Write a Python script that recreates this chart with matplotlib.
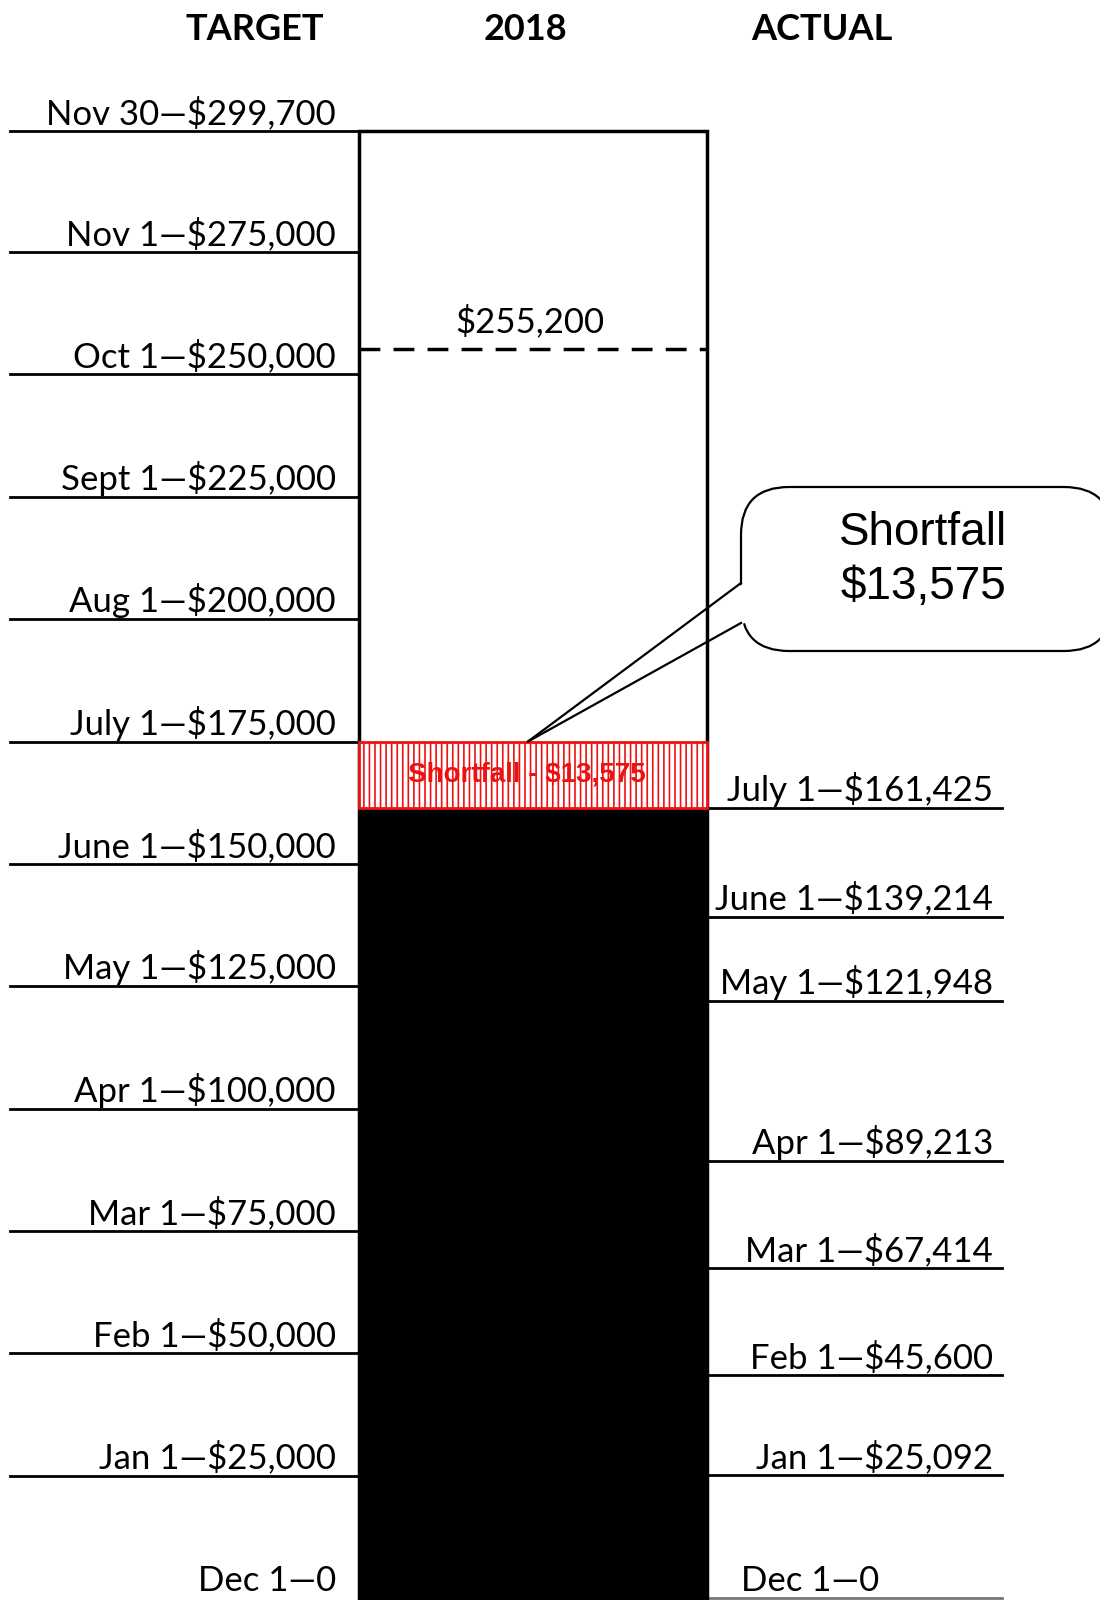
import matplotlib
matplotlib.use("Agg")
import matplotlib.pyplot as plt
from matplotlib.patches import FancyBboxPatch, Polygon

plt.rcParams['font.family'] = ['Lato', 'DejaVu Sans']

# target schedule (left side)
target_months = ["Dec 1", "Jan 1", "Feb 1", "Mar 1", "Apr 1", "May 1", "June 1",
                 "July 1", "Aug 1", "Sept 1", "Oct 1", "Nov 1", "Nov 30"]
target_values = [0, 25000, 50000, 75000, 100000, 125000, 150000,
                 175000, 200000, 225000, 250000, 275000, 299700]

# actual amounts raised (right side)
actual_months = ["Dec 1", "Jan 1", "Feb 1", "Mar 1", "Apr 1", "May 1", "June 1", "July 1"]
actual_values = [0, 25092, 45600, 67414, 89213, 121948, 139214, 161425]

headers = ["TARGET", "2018", "ACTUAL"]
goal_mark = 255200


def money(v):
    return "0" if v == 0 else f"${v:,}"


fig = plt.figure(figsize=(11, 16), dpi=100)
ax = fig.add_axes([0, 0, 1, 1])
ax.set_xlim(0, 1100)
ax.set_ylim(-400, 326500)
ax.axis('off')

bar_x = 533
bar_w = 348

# 2018 box outline
ax.bar(bar_x, target_values[-1], width=bar_w, bottom=0, fill=False,
       edgecolor='black', linewidth=2.5, zorder=3)

# raised so far
cur = actual_values[-1]
ax.bar(bar_x, cur, width=bar_w, bottom=0, color='black', zorder=2)

# shortfall vs July 1 target
july_target = target_values[target_months.index("July 1")]
short = july_target - cur
plt.rcParams['hatch.color'] = '#c81818'
plt.rcParams['hatch.linewidth'] = 1.2
ax.bar(bar_x, short, width=bar_w, bottom=cur, facecolor='white',
       edgecolor='#ee1111', linewidth=2, hatch='|||', zorder=4)
ax.text(bar_x - 6, cur + short / 2, f"Shortfall - ${short:,}", color='#ee1111',
        fontsize=20, fontweight='bold', family=['Liberation Sans', 'DejaVu Sans'],
        ha='center', va='center', zorder=5)

# dashed goal line
ax.plot([bar_x - bar_w / 2, bar_x + bar_w / 2], [goal_mark, goal_mark],
        color='black', linewidth=2.5, dashes=(6, 3.8), zorder=3)
ax.annotate(money(goal_mark), (bar_x - 3, goal_mark), xytext=(0, 12),
            textcoords='offset points', ha='center', va='baseline', fontsize=25)

# target lines + labels
for m, v in zip(target_months, target_values):
    if v > 0:
        ax.plot([10, bar_x - bar_w / 2], [v, v], color='black', linewidth=2, zorder=1)
    ax.annotate(f"{m}\u2014{money(v)}", (336, v), xytext=(0, 5),
                textcoords='offset points', ha='right', va='baseline', fontsize=25)

# actual lines + labels
for m, v in zip(actual_months, actual_values):
    col = 'black' if v > 0 else '#777777'
    ax.plot([bar_x + bar_w / 2, 1002], [v, v], color=col, linewidth=2, zorder=1)
    if v > 0:
        ax.annotate(f"{m}\u2014{money(v)}", (993, v), xytext=(0, 5),
                    textcoords='offset points', ha='right', va='baseline', fontsize=25)
    else:
        ax.annotate(f"{m}\u2014{money(v)}", (741, v), xytext=(0, 5),
                    textcoords='offset points', ha='left', va='baseline', fontsize=25)

# headers
for h, x in zip(headers, [255, 525, 822]):
    fig.text(x / 1100, 1 - 30 / 1600, h, ha='center', va='center',
             fontsize=26, fontweight='bold')

# callout bubble, drawn in pixel coordinates on an overlay axes
ov = fig.add_axes([0, 0, 1, 1])
ov.set_xlim(0, 1100)
ov.set_ylim(1600, 0)
ov.axis('off')
ov.patch.set_alpha(0)

fig.canvas.draw()
tx, ty = ax.transData.transform((bar_x - 5, july_target))
tip = (tx, 1600 - ty)

bx0, by0, bx1, by1 = 741, 487, 1112, 651
bubble = FancyBboxPatch((bx0, by0), bx1 - bx0, by1 - by0,
                        boxstyle="round,pad=0,rounding_size=48",
                        facecolor='white', edgecolor='black', linewidth=1.6, zorder=5)
ov.add_patch(bubble)
p1 = (bx0, 583)
p2 = (bx0, 623)


def along(p, t):
    return (p[0] + (tip[0] - p[0]) * t, p[1] + (tip[1] - p[1]) * t)


cover = Polygon([(bx0 + 4, p1[1]), along(p1, 0.04), along(p2, 0.04), (bx0 + 4, p2[1])],
                closed=True, facecolor='white', edgecolor='none', zorder=6)
ov.add_patch(cover)
ov.plot([p1[0], tip[0]], [p1[1], tip[1]], color='black', linewidth=1.6, zorder=7)
ov.plot([p2[0], tip[0]], [p2[1], tip[1]], color='black', linewidth=1.6, zorder=7)
ov.text(923, 560, f"Shortfall\n${short:,}", ha='center', va='center', fontsize=33,
        family=['Liberation Sans', 'DejaVu Sans'], linespacing=1.3, zorder=8)

fig.savefig("out.png", dpi=100)
